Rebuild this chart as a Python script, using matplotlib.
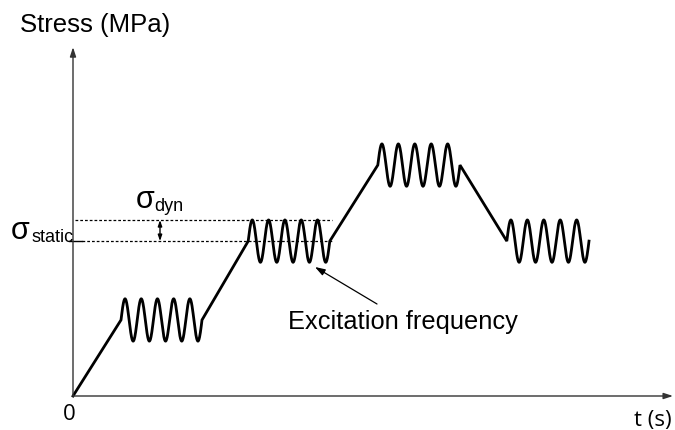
import numpy as np
import matplotlib
matplotlib.use("Agg")
import matplotlib.pyplot as plt

# ---- data (schematic) ----
osc_starts = [8.0, 29.2, 50.8, 72.3]     # t where each oscillation block starts
osc_ends = [21.5, 42.8, 64.5, 86.0]      # t where each block ends
osc_levels = [21.6, 44.0, 65.6, 44.0]    # static stress level of each block
osc_amplitude = 6.0                      # sigma_dyn
osc_cycles = 5                           # cycles per block
sigma_static = 44.0
axis_t_max = 100.0
axis_s_max = 99.1

# ---- figure setup: 675x431 px ----
fig = plt.figure(figsize=(6.75, 4.31), dpi=100)
ax = fig.add_axes([0, 0, 1, 1])
X0, Y0, SX, SY = 73.0, 397.0, 6.0, 3.52
ax.set_xlim((0 - X0) / SX, (675 - X0) / SX)
ax.set_ylim((Y0 - 431) / SY, (Y0 - 0) / SY)
ax.axis("off")

def P(px, py):
    return (px - X0) / SX, (Y0 - py) / SY

# ---- build the curve ----
ts, ss = [0.0], [0.0]
for t0, t1, lev in zip(osc_starts, osc_ends, osc_levels):
    tt = np.linspace(t0, t1, 400)
    ts.extend(tt)
    ss.extend(lev + osc_amplitude * np.sin(2 * np.pi * osc_cycles * (tt - t0) / (t1 - t0)))
ax.plot(ts, ss, color="black", lw=2.0, solid_joinstyle="miter", zorder=3)

# ---- axes arrows ----
ax.annotate("", xy=(axis_t_max, 0), xytext=(0, 0),
            arrowprops=dict(arrowstyle="-|>,head_length=0.55,head_width=0.18",
                            color="#333333", lw=1.0, shrinkA=0, shrinkB=0))
ax.annotate("", xy=(0, axis_s_max), xytext=(0, 0),
            arrowprops=dict(arrowstyle="-|>,head_length=0.55,head_width=0.18",
                            color="#333333", lw=1.0, shrinkA=0, shrinkB=0))

# ---- reference lines ----
x_end = P(332, 0)[0]
ax.plot([P(75, 0)[0], x_end], [sigma_static + osc_amplitude] * 2,
        color="black", lw=0.9, ls=(0, (2.2, 1.6)))
ax.plot([P(82, 0)[0], x_end], [sigma_static] * 2,
        color="black", lw=0.9, ls=(0, (2.2, 1.6)))
ax.plot([P(69, 0)[0], P(82, 0)[0]], [sigma_static] * 2, color="black", lw=1.0)

# double arrow for sigma_dyn
xd = P(160, 0)[0]
ax.annotate("", xy=(xd, sigma_static + osc_amplitude), xytext=(xd, sigma_static),
            arrowprops=dict(arrowstyle="<|-|>,head_length=0.35,head_width=0.12",
                            color="black", lw=1.0, shrinkA=0, shrinkB=0))

# ---- texts ----
arial = "Liberation Sans"
ax.text(*P(95, 25), "Stress (MPa)", fontsize=18.5, family=arial,
        ha="center", va="center")
ax.text(*P(11, 239), "σ", fontsize=22, family=arial, ha="left", va="baseline")
ax.text(*P(31, 242), "static", fontsize=13, family=arial, ha="left", va="baseline")
ax.text(*P(136, 208), "σ", fontsize=22, family=arial, ha="left", va="baseline")
ax.text(*P(154, 211), "dyn", fontsize=13, family=arial, ha="left", va="baseline")

ax.text(*P(403, 322), "Excitation frequency", fontsize=18.3, family=arial,
        ha="center", va="center")
ax.annotate("", xy=P(315, 268), xytext=P(377, 305),
            arrowprops=dict(arrowstyle="-|>,head_length=0.6,head_width=0.2",
                            color="black", lw=0.9, shrinkA=0, shrinkB=0))

ax.text(*P(69, 415), "0", fontsize=16, family="Open Sans", ha="center", va="center")
ax.text(*P(653, 421), "t (s)", fontsize=16, family="Open Sans", ha="center", va="center")

fig.savefig("out.png", dpi=100)
